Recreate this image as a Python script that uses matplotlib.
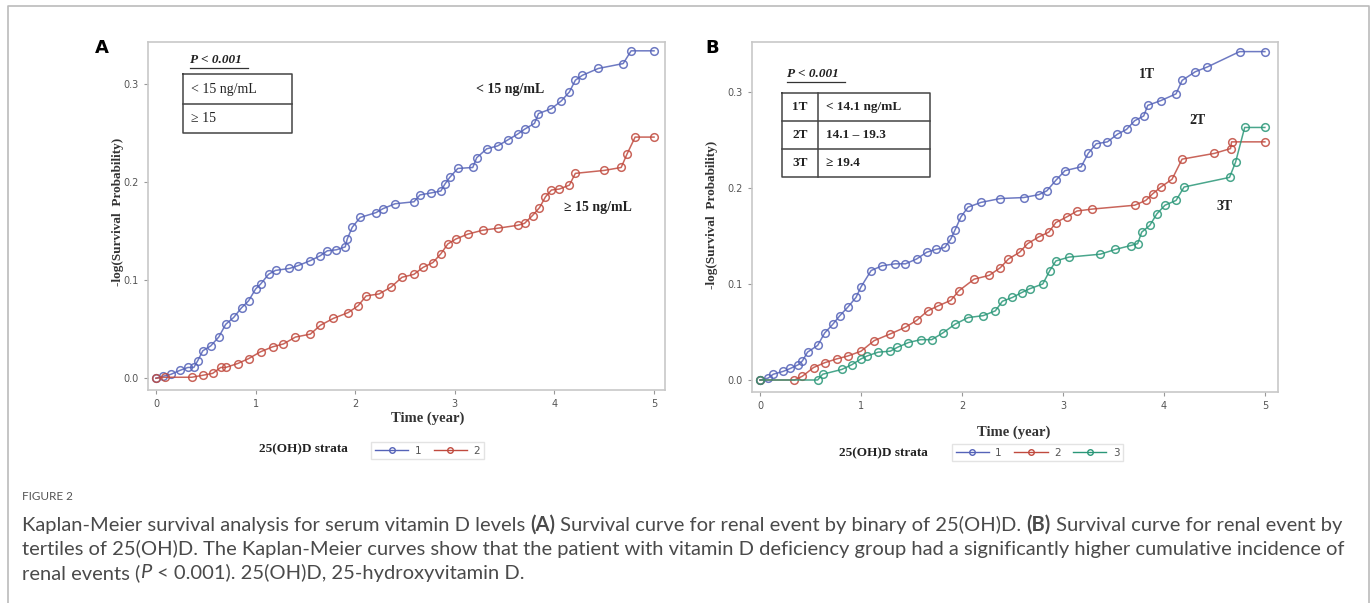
import numpy as np
import matplotlib
matplotlib.use("Agg")
import matplotlib.pyplot as plt
from matplotlib.lines import Line2D

W, H = 1372, 603

# ---- data ----
a1_t = [0, 0.07, 0.15, 0.24, 0.32, 0.38, 0.42, 0.47, 0.55, 0.63, 0.70, 0.78, 0.86, 0.93, 1.0, 1.05,
        1.13, 1.20, 1.34, 1.43, 1.55, 1.65, 1.72, 1.81, 1.90, 1.92, 1.97, 2.05, 2.21, 2.28, 2.40,
        2.59, 2.65, 2.76, 2.86, 2.90, 2.95, 3.03, 3.18, 3.22, 3.32, 3.43, 3.53, 3.63, 3.70, 3.80,
        3.84, 3.97, 4.07, 4.15, 4.21, 4.28, 4.44, 4.69, 4.77, 5.0]
a1_y = [0, 0.002, 0.004, 0.008, 0.011, 0.011, 0.018, 0.028, 0.033, 0.042, 0.055, 0.062, 0.072, 0.079,
        0.091, 0.096, 0.106, 0.110, 0.112, 0.115, 0.120, 0.125, 0.130, 0.131, 0.134, 0.142, 0.154,
        0.164, 0.169, 0.173, 0.178, 0.180, 0.187, 0.189, 0.191, 0.198, 0.205, 0.214, 0.215, 0.225,
        0.234, 0.237, 0.243, 0.249, 0.254, 0.260, 0.270, 0.275, 0.283, 0.292, 0.304, 0.309, 0.316,
        0.321, 0.334, 0.334]

a2_t = [0, 0.09, 0.36, 0.47, 0.57, 0.65, 0.70, 0.82, 0.93, 1.05, 1.17, 1.28, 1.40, 1.55, 1.65, 1.78,
        1.93, 2.03, 2.11, 2.24, 2.36, 2.47, 2.59, 2.68, 2.78, 2.86, 2.93, 3.01, 3.13, 3.28, 3.43,
        3.63, 3.70, 3.78, 3.85, 3.91, 3.97, 4.05, 4.15, 4.21, 4.50, 4.67, 4.73, 4.81, 5.0]
a2_y = [0, 0.001, 0.001, 0.003, 0.005, 0.011, 0.011, 0.015, 0.020, 0.027, 0.032, 0.035, 0.042, 0.045,
        0.054, 0.061, 0.067, 0.074, 0.084, 0.086, 0.093, 0.103, 0.106, 0.113, 0.118, 0.127, 0.137,
        0.142, 0.147, 0.151, 0.153, 0.156, 0.158, 0.166, 0.174, 0.185, 0.192, 0.193, 0.197, 0.209,
        0.212, 0.215, 0.229, 0.246, 0.246]

b1_t = [0, 0.08, 0.13, 0.23, 0.30, 0.38, 0.42, 0.47, 0.57, 0.64, 0.72, 0.79, 0.87, 0.95, 1.0, 1.10,
        1.21, 1.34, 1.44, 1.55, 1.65, 1.74, 1.83, 1.89, 1.93, 1.99, 2.06, 2.19, 2.38, 2.61, 2.76,
        2.84, 2.93, 3.02, 3.18, 3.25, 3.33, 3.44, 3.54, 3.63, 3.71, 3.80, 3.84, 3.97, 4.12, 4.18,
        4.31, 4.43, 4.75, 5.0]
b1_y = [0, 0.002, 0.006, 0.009, 0.012, 0.016, 0.020, 0.029, 0.036, 0.049, 0.058, 0.067, 0.076, 0.086,
        0.097, 0.114, 0.119, 0.121, 0.121, 0.126, 0.133, 0.136, 0.138, 0.147, 0.156, 0.170, 0.180,
        0.185, 0.189, 0.190, 0.193, 0.197, 0.208, 0.218, 0.222, 0.236, 0.246, 0.248, 0.256, 0.261,
        0.270, 0.275, 0.286, 0.291, 0.298, 0.312, 0.321, 0.326, 0.342, 0.342]

b2_t = [0, 0.34, 0.42, 0.53, 0.64, 0.76, 0.87, 1.0, 1.13, 1.29, 1.44, 1.55, 1.66, 1.76, 1.89, 1.97,
        2.12, 2.27, 2.38, 2.46, 2.57, 2.65, 2.76, 2.86, 2.93, 3.04, 3.14, 3.29, 3.71, 3.82, 3.89,
        3.97, 4.08, 4.18, 4.50, 4.66, 4.67, 5.0]
b2_y = [0, 0, 0.004, 0.013, 0.018, 0.022, 0.025, 0.030, 0.041, 0.048, 0.055, 0.062, 0.072, 0.077,
        0.083, 0.093, 0.105, 0.109, 0.117, 0.126, 0.133, 0.142, 0.149, 0.154, 0.164, 0.170, 0.176,
        0.178, 0.182, 0.187, 0.194, 0.201, 0.209, 0.230, 0.236, 0.241, 0.248, 0.248]

b3_t = [0, 0.57, 0.62, 0.81, 0.91, 1.0, 1.06, 1.17, 1.29, 1.36, 1.47, 1.59, 1.70, 1.81, 1.93, 2.06,
        2.21, 2.33, 2.40, 2.50, 2.59, 2.67, 2.80, 2.87, 2.93, 3.06, 3.37, 3.52, 3.67, 3.74, 3.78,
        3.86, 3.93, 4.01, 4.12, 4.20, 4.65, 4.71, 4.80, 5.0]
b3_y = [0, 0, 0.006, 0.011, 0.016, 0.022, 0.025, 0.029, 0.030, 0.034, 0.039, 0.042, 0.042, 0.049,
        0.058, 0.065, 0.067, 0.072, 0.082, 0.086, 0.091, 0.095, 0.100, 0.114, 0.124, 0.128, 0.131,
        0.136, 0.140, 0.142, 0.154, 0.161, 0.173, 0.182, 0.187, 0.201, 0.211, 0.227, 0.263, 0.263]

x_ticks = [0, 1, 2, 3, 4, 5]
y_ticks = [0.0, 0.1, 0.2, 0.3]

BLUE = "#5563b8"
RED = "#c04a3e"
GREEN = "#2a9778"
FRAME = "#c8c8c8"
SERIF = "Liberation Serif"

fig = plt.figure(figsize=(W / 100, H / 100), dpi=100)


def fx(px):
    return px / W


def fy(py):
    return 1 - py / H


def rect(x0, y0, x1, y1):
    return [fx(x0), fy(y1), fx(x1) - fx(x0), fy(y0) - fy(y1)]


def style_ax(ax, xlim, ylim):
    ax.set_xlim(*xlim)
    ax.set_ylim(*ylim)
    ax.set_xticks(x_ticks)
    ax.set_yticks(y_ticks)
    ax.set_yticklabels(["%.1f" % v for v in y_ticks])
    for s in ax.spines.values():
        s.set_color(FRAME)
        s.set_linewidth(1.2)
    ax.tick_params(colors="#999999", labelcolor="#555555", labelsize=7, length=3, width=0.8)


def curve(ax, t, y, c):
    ax.plot(t, y, color=c, lw=1.1, marker="o", ms=5.5, mfc="none", mec=c, mew=1.1, alpha=0.85)


# ---- panel A ----
axA = fig.add_axes(rect(148, 42, 665, 390))
style_ax(axA, (-0.08, 5.11), (-0.012, 0.343))
curve(axA, a1_t, a1_y, BLUE)
curve(axA, a2_t, a2_y, RED)

# ---- panel B ----
axB = fig.add_axes(rect(752, 42, 1278, 392))
style_ax(axB, (-0.08, 5.13), (-0.0125, 0.352))
curve(axB, b1_t, b1_y, BLUE)
curve(axB, b2_t, b2_y, RED)
curve(axB, b3_t, b3_y, GREEN)

# axis labels
for x, y in [(118, 212), (712, 215)]:
    fig.text(fx(x), fy(y), "-log(Survival  Probability)", rotation=90, ha="center", va="center",
             family=SERIF, weight="bold", fontsize=9.5, color="#333333")
for x, y in [(428, 418), (1014, 432)]:
    fig.text(fx(x), fy(y), "Time (year)", ha="center", va="center",
             family=SERIF, weight="bold", fontsize=10.5, color="#333333")

# panel letters
fig.text(fx(102), fy(48), "A", ha="center", va="center", weight="bold", fontsize=13)
fig.text(fx(712), fy(48), "B", ha="center", va="center", weight="bold", fontsize=13)

# curve annotations
ann = [(510, 90, "< 15 ng/mL"), (598, 208, "\u2265 15 ng/mL"),
       (1147, 75, "1T"), (1197, 121, "2T"), (1225, 206, "3T")]
for x, y, s in ann:
    fig.text(fx(x), fy(y), s, ha="center", va="center", family=SERIF, weight="bold",
             fontsize=10, color="#222222")

# P-value labels (underlined)
for x0, x1, y in [(190, 248, 60), (787, 845, 74)]:
    fig.text(fx(x0), fy(y), "P < 0.001", ha="left", va="center", family=SERIF,
             weight="bold", style="italic", fontsize=9.5, color="#222222")
    fig.add_artist(Line2D([fx(x0), fx(x1)], [fy(y + 8), fy(y + 8)], color="#333333", lw=0.9))


# inset tables
def box(x0, y0, x1, y1):
    xs = [fx(x0), fx(x1), fx(x1), fx(x0), fx(x0)]
    ys = [fy(y0), fy(y0), fy(y1), fy(y1), fy(y0)]
    fig.add_artist(Line2D(xs, ys, color="#444444", lw=1.1))


def hline(x0, x1, y):
    fig.add_artist(Line2D([fx(x0), fx(x1)], [fy(y), fy(y)], color="#444444", lw=1.1))


def vline(x, y0, y1):
    fig.add_artist(Line2D([fx(x), fx(x)], [fy(y0), fy(y1)], color="#444444", lw=1.1))


tab_a = ["< 15 ng/mL", "\u2265 15"]
box(183, 74, 292, 133)
hline(183, 292, 104)
for i, s in enumerate(tab_a):
    fig.text(fx(191), fy(89 + 30 * i), s, ha="left", va="center", family=SERIF,
             fontsize=10, color="#222222")

tab_b_k = ["1T", "2T", "3T"]
tab_b_v = ["< 14.1 ng/mL", "14.1 \u2013 19.3", "\u2265 19.4"]
box(782, 93, 930, 177)
hline(782, 930, 121)
hline(782, 930, 149)
vline(818, 93, 177)
for i in range(3):
    fig.text(fx(800), fy(107 + 28 * i), tab_b_k[i], ha="center", va="center", family=SERIF,
             weight="bold", fontsize=9.5, color="#222222")
    fig.text(fx(826), fy(107 + 28 * i), tab_b_v[i], ha="left", va="center", family=SERIF,
             weight="bold", fontsize=9.5, color="#222222")


# legends
def legend(ax, items, x0, y0, x1, y1, title_x, title_y):
    handles = [Line2D([], [], color=c, lw=1.0, marker="o", ms=4, mfc="none", mec=c) for c in items]
    labels = [str(i + 1) for i in range(len(items))]
    lg = fig.legend(handles, labels, ncol=len(items), loc="center",
                    bbox_to_anchor=(fx((x0 + x1) / 2), fy((y0 + y1) / 2)),
                    frameon=True, fancybox=False, fontsize=7.5, handlelength=3.2,
                    handletextpad=0.6, columnspacing=1.2, borderpad=0.35, labelcolor="#555555")
    lg.get_frame().set_edgecolor("#dddddd")
    lg.get_frame().set_linewidth(1.0)
    fig.text(fx(title_x), fy(title_y), "25(OH)D strata", ha="right", va="center", family=SERIF,
             weight="bold", fontsize=9.5, color="#222222")


legend(axA, [BLUE, RED], 360, 441, 495, 460, 348, 449)
legend(axB, [BLUE, RED, GREEN], 935, 443, 1140, 462, 928, 453)

# outer border
fig.add_artist(Line2D([fx(8), fx(8), fx(1369), fx(1369)], [0, fy(6), fy(6), 0],
                      color="#bbbbbb", lw=1.2))

# ---- caption ----
CAP = "Lato"
fig.text(fx(22), fy(496), "FIGURE 2", ha="left", va="center", family=CAP, fontsize=8.5,
         color="#555555")

cap_lines = [
    [("Kaplan-Meier survival analysis for serum vitamin D levels ", "normal", "normal"),
     ("(A)", "bold", "normal"),
     (" Survival curve for renal event by binary of 25(OH)D. ", "normal", "normal"),
     ("(B)", "bold", "normal"),
     (" Survival curve for renal event by", "normal", "normal")],
    [("tertiles of 25(OH)D. The Kaplan-Meier curves show that the patient with vitamin D deficiency "
      "group had a significantly higher cumulative incidence of", "normal", "normal")],
    [("renal events (", "normal", "normal"), ("P", "normal", "italic"),
     (" < 0.001). 25(OH)D, 25-hydroxyvitamin D.", "normal", "normal")],
]
cap_y = [525, 549, 573]

# pick a caption size so the first line spans the same width as in the figure
fig.canvas.draw()
r = fig.canvas.get_renderer()
probe = fig.text(0, 0, "".join(s for s, _, _ in cap_lines[0]), family=CAP, fontsize=10)
w10 = probe.get_window_extent(renderer=r).width
probe.remove()
cap_size = 10 * 1323 / w10

for segs, y in zip(cap_lines, cap_y):
    x = 22
    for s, w, st in segs:
        t = fig.text(fx(x), fy(y), s, ha="left", va="center", family=CAP, fontsize=cap_size,
                     weight=w, style=st, color="#4a4a4a")
        x += t.get_window_extent(renderer=r).width

fig.savefig("out.png", dpi=100)
